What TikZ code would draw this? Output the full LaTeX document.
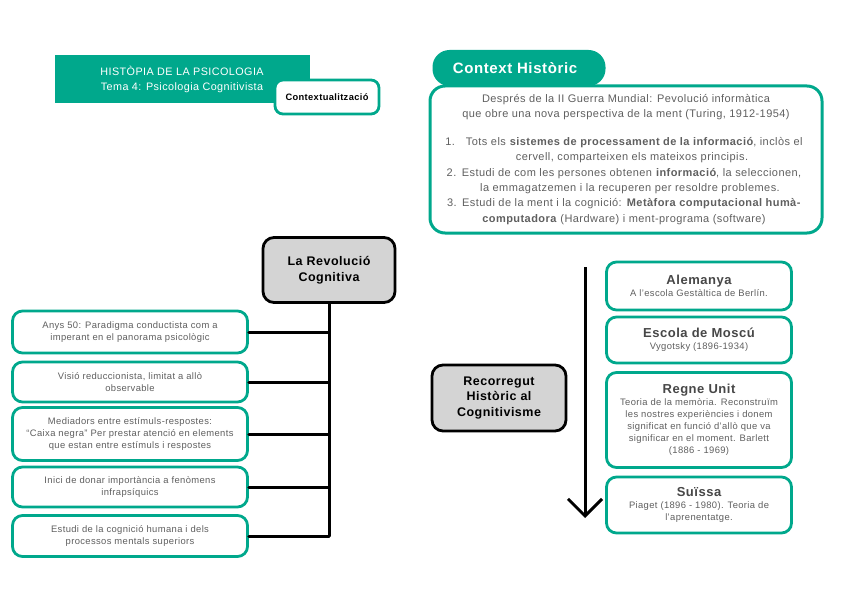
\documentclass[tikz,border=0pt]{standalone}
\usepackage{fontspec}
\setmainfont[LetterSpace=4]{Liberation Sans}
\usepackage{tikz}
\usetikzlibrary{arrows.meta,positioning,calc}
\definecolor{teal}{RGB}{0,168,140}
\definecolor{txtgray}{RGB}{95,95,95}
\definecolor{boxgray}{RGB}{212,212,212}
\newcommand{\boxhead}[1]{\textbf{\fontsize{13}{15}\selectfont\color{black!72}#1}}

\begin{document}
\begin{tikzpicture}[x=1pt,y=-1pt,% List of styles applied to all, to override specify on a case-by-case
			every node/.style={
				align=center,		% use this so that the "\\" for line break works
				inner sep=0pt
			},
			tealbox/.style={rectangle,rounded corners=10pt,line width=2.8pt,draw=teal,fill=white,text=txtgray,font=\fontsize{9.4}{12}\selectfont},
			graybox/.style={rectangle,rounded corners=11pt,line width=2.8pt,draw=black,fill=boxgray,text=black,font=\bfseries\fontsize{12.5}{15.5}\selectfont},
			branch/.style={line width=3pt,line cap=round}
		]
		\useasboundingbox (0,0) rectangle (848,599);
		% header
		\node[rectangle,fill=teal,minimum width=255pt,minimum height=48pt,text=white,font=\fontsize{10.8}{15}\selectfont](head) at (182,79){HISTÒPIA DE LA PSICOLOGIA\\Tema 4: Psicologia Cognitivista};
		\node[rectangle,rounded corners=8pt,line width=2.8pt,draw=teal,fill=white,minimum width=104pt,minimum height=34pt,font=\bfseries\fontsize{9.3}{11}\selectfont](ctx) at (327,97){Contextualització};
		% context box
		\draw[teal,line width=3pt,rounded corners=15pt] (430,86) rectangle (822,233);
		\node[rectangle,rounded corners=17pt,fill=teal,minimum width=173pt,minimum height=36pt,text=white,font=\bfseries\fontsize{15}{17}\selectfont](hist) at (519,68){Context Històric\hspace*{8pt}};
		\node[text=txtgray,font=\fontsize{11}{14.5}\selectfont](histtxt) at (626,107){Després de la II Guerra Mundial: Pevolució informàtica\\que obre una nova perspectiva de la ment (Turing, 1912-1954)};
		\node[text=txtgray,font=\fontsize{11}{15.3}\selectfont](histlist) at (624,181){1.\quad Tots els \textbf{sistemes de processament de la informació}, inclòs el\\\hspace*{16pt}cervell, comparteixen els mateixos principis.\\2.\enspace Estudi de com les persones obtenen \textbf{informació}, la seleccionen,\\\hspace*{12pt}la emmagatzemen i la recuperen per resoldre problemes.\\3.\enspace Estudi de la ment i la cognició: \textbf{Metàfora computacional humà-}\\\textbf{computadora} (Hardware) i ment-programa (software)};
		% left branch
		\node[graybox,minimum width=132pt,minimum height=65pt](rev) at (329,270){La Revolució\\Cognitiva};
		\node[tealbox,minimum width=235pt,minimum height=42pt](lb1) at (130,332){Anys 50: Paradigma conductista com a\\imperant en el panorama psicològic};
		\node[tealbox,minimum width=235pt,minimum height=40pt](lb2) at (130,382){Visió reduccionista, limitat a allò\\observable};
		\node[tealbox,minimum width=235pt,minimum height=53pt](lb3) at (130,434){Mediadors entre estímuls-respostes:\\“Caixa negra” Per prestar atenció en elements\\que estan entre estímuls i respostes};
		\node[tealbox,minimum width=235pt,minimum height=40pt](lb4) at (130,487){Inici de donar importància a fenòmens\\infrapsíquics};
		\node[tealbox,minimum width=235pt,minimum height=41pt](lb5) at (130,536){Estudi de la cognició humana i dels\\processos mentals superiors};
		\draw[branch] (rev.south) -- (rev.south |- lb5.east);
		\foreach \b in {lb1,lb2,lb3,lb4,lb5}
			\draw[branch] (\b.east) -- (\b.east -| rev.south);
		% right branch
		\node[graybox,minimum width=134pt,minimum height=66pt](rec) at (499,398){Recorregut\\Històric al\\Cognitivisme};
		\coordinate (arrtop) at (585,267);
		\coordinate (arrbot) at (585,518);
		\draw[line width=3pt,-{Straight Barb[length=17pt,width=34pt,line width=3pt]}] (arrtop) -- (arrbot);
		\node[tealbox,minimum width=185pt,minimum height=48pt](ale) at (699,286){\boxhead{Alemanya}\\A l'escola Gestàltica de Berlín.};
		\node[tealbox,minimum width=185pt,minimum height=46pt](mos) at (699,340){\boxhead{Escola de Moscú}\\Vygotsky (1896-1934)};
		\node[tealbox,minimum width=185pt,minimum height=95pt](reg) at (699,420){\boxhead{Regne Unit}\\Teoria de la memòria. Reconstruïm\\les nostres experiències i donem\\significat en funció d'allò que va\\significar en el moment. Barlett\\(1886 - 1969)};
		\node[tealbox,minimum width=185pt,minimum height=56pt](sui) at (699,505){\boxhead{Suïssa}\\Piaget (1896 - 1980). Teoria de\\l'aprenentatge.};
	\end{tikzpicture}
\end{document}
